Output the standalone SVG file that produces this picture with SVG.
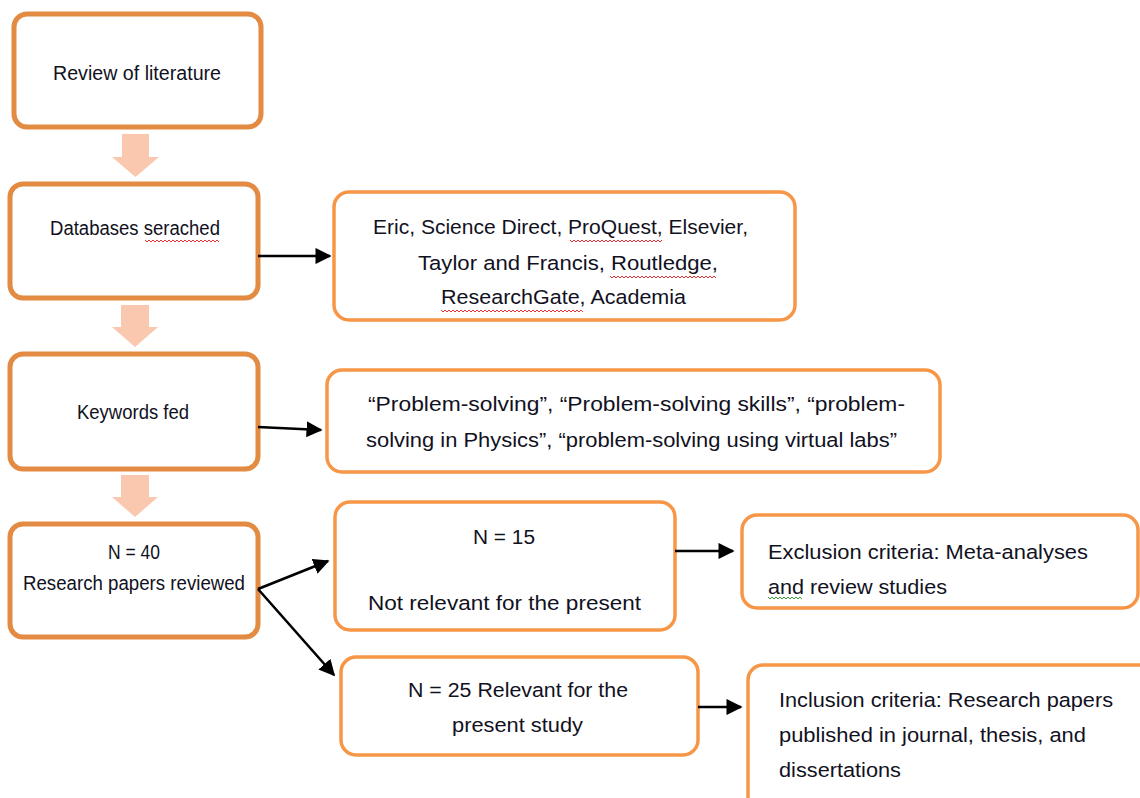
<svg xmlns="http://www.w3.org/2000/svg" width="1140" height="798" viewBox="0 0 1140 798">
<defs>
<marker id="ah" viewBox="0 0 10 10" refX="9" refY="5" markerWidth="6.2" markerHeight="6.2" orient="auto" markerUnits="strokeWidth">
<path d="M0,0 L10,5 L0,10 Z" fill="#000"/>
</marker>
<style>
.lbox{fill:#fff;stroke:#E38A43;stroke-width:5}
.rbox{fill:#fff;stroke:#F79646;stroke-width:3.5}
.blk{fill:#FAC8AE}
text{font-family:"Liberation Sans",Arial,sans-serif;fill:#111122}
.lt{font-size:19.5px}
.rt{font-size:20.5px}
.con{stroke:#000;stroke-width:2.6;fill:none;marker-end:url(#ah)}
.sq{fill:none;stroke:#e03030;stroke-width:1}
.sqg{fill:none;stroke:#3a9a3a;stroke-width:1}
</style>
</defs>
<rect width="1140" height="798" fill="#fff"/>

<g id="flow-arrows">
<path class="blk" d="M122,134 H149 V157 H159 L135.5,177 L112,157 H122 Z"/>
<path class="blk" d="M121,305 H149 V327 H158 L135,347 L112,327 H121 Z"/>
<path class="blk" d="M121,475 H149 V497 H158 L135,517 L112,497 H121 Z"/>
</g>

<g id="n1">
<rect class="lbox" x="14" y="14" width="247" height="113" rx="13"/>
<text class="lt" x="53" y="80" textLength="168" lengthAdjust="spacingAndGlyphs">Review of literature</text>
</g>
<g id="n2">
<rect class="lbox" x="10" y="184" width="248" height="114" rx="13"/>
<text class="lt" x="50" y="235" textLength="170" lengthAdjust="spacingAndGlyphs">Databases serached</text>
</g>
<g id="n3">
<rect class="lbox" x="10" y="354" width="248" height="115" rx="13"/>
<text class="lt" x="77" y="419" textLength="112" lengthAdjust="spacingAndGlyphs">Keywords fed</text>
</g>
<g id="n4">
<rect class="lbox" x="10" y="524" width="248" height="113" rx="13"/>
<text class="lt" x="108" y="559" textLength="52" lengthAdjust="spacingAndGlyphs">N = 40</text>
<text class="lt" x="23" y="590" textLength="222" lengthAdjust="spacingAndGlyphs">Research papers reviewed</text>
</g>

<g id="nA">
<rect class="rbox" x="334" y="192" width="461" height="128" rx="15"/>
<text class="rt" x="373" y="234" textLength="375" lengthAdjust="spacingAndGlyphs">Eric, Science Direct, ProQuest, Elsevier,</text>
<text class="rt" x="418" y="270" textLength="300" lengthAdjust="spacingAndGlyphs">Taylor and Francis, Routledge,</text>
<text class="rt" x="441" y="304" textLength="245" lengthAdjust="spacingAndGlyphs">ResearchGate, Academia</text>
</g>
<g id="nB">
<rect class="rbox" x="327" y="370" width="613" height="102" rx="15"/>
<text class="rt" x="368" y="411" textLength="537" lengthAdjust="spacingAndGlyphs">“Problem-solving”, “Problem-solving skills”, “problem-</text>
<text class="rt" x="366" y="447" textLength="531" lengthAdjust="spacingAndGlyphs">solving in Physics”, “problem-solving using virtual labs”</text>
</g>
<g id="nC">
<rect class="rbox" x="335" y="502" width="340" height="128" rx="15"/>
<text class="rt" x="473" y="544" textLength="62" lengthAdjust="spacingAndGlyphs">N = 15</text>
<text class="rt" x="368" y="610" textLength="273" lengthAdjust="spacingAndGlyphs">Not relevant for the present</text>
</g>
<g id="nD">
<rect class="rbox" x="341" y="657" width="357" height="98" rx="15"/>
<text class="rt" x="408" y="697" textLength="220" lengthAdjust="spacingAndGlyphs">N = 25 Relevant for the</text>
<text class="rt" x="452" y="732" textLength="131" lengthAdjust="spacingAndGlyphs">present study</text>
</g>
<g id="nE">
<rect class="rbox" x="742" y="515" width="396" height="93" rx="15"/>
<text class="rt" x="768" y="559" textLength="320" lengthAdjust="spacingAndGlyphs">Exclusion criteria: Meta-analyses</text>
<text class="rt" x="768" y="594" textLength="179" lengthAdjust="spacingAndGlyphs">and review studies</text>
</g>
<g id="nF">
<rect class="rbox" x="748" y="665" width="420" height="160" rx="15"/>
<text class="rt" x="779" y="707" textLength="334" lengthAdjust="spacingAndGlyphs">Inclusion criteria: Research papers</text>
<text class="rt" x="779" y="742" textLength="307" lengthAdjust="spacingAndGlyphs">published in journal, thesis, and</text>
<text class="rt" x="779" y="777" textLength="122" lengthAdjust="spacingAndGlyphs">dissertations</text>
</g>

<g id="spelling-marks">
<path class="sq" d="M145,240 l2,2 l2,-2 l2,2 l2,-2 l2,2 l2,-2 l2,2 l2,-2 l2,2 l2,-2 l2,2 l2,-2 l2,2 l2,-2 l2,2 l2,-2 l2,2 l2,-2 l2,2 l2,-2 l2,2 l2,-2 l2,2 l2,-2 l2,2 l2,-2 l2,2 l2,-2 l2,2 l2,-2 l2,2 l2,-2 l2,2 l2,-2 l2,2 l2,-2 l2,2"/>
<path class="sq" d="M570,240 l2,2 l2,-2 l2,2 l2,-2 l2,2 l2,-2 l2,2 l2,-2 l2,2 l2,-2 l2,2 l2,-2 l2,2 l2,-2 l2,2 l2,-2 l2,2 l2,-2 l2,2 l2,-2 l2,2 l2,-2 l2,2 l2,-2 l2,2 l2,-2 l2,2 l2,-2 l2,2 l2,-2 l2,2 l2,-2 l2,2 l2,-2 l2,2 l2,-2 l2,2 l2,-2 l2,2 l2,-2 l2,2 l2,-2 l2,2 l2,-2 l2,2 l2,-2"/>
<path class="sq" d="M610,276 l2,2 l2,-2 l2,2 l2,-2 l2,2 l2,-2 l2,2 l2,-2 l2,2 l2,-2 l2,2 l2,-2 l2,2 l2,-2 l2,2 l2,-2 l2,2 l2,-2 l2,2 l2,-2 l2,2 l2,-2 l2,2 l2,-2 l2,2 l2,-2 l2,2 l2,-2 l2,2 l2,-2 l2,2 l2,-2 l2,2 l2,-2 l2,2 l2,-2 l2,2 l2,-2 l2,2 l2,-2 l2,2 l2,-2 l2,2 l2,-2 l2,2 l2,-2 l2,2 l2,-2 l2,2 l2,-2 l2,2 l2,-2 l2,2"/>
<path class="sq" d="M441,310 l2,2 l2,-2 l2,2 l2,-2 l2,2 l2,-2 l2,2 l2,-2 l2,2 l2,-2 l2,2 l2,-2 l2,2 l2,-2 l2,2 l2,-2 l2,2 l2,-2 l2,2 l2,-2 l2,2 l2,-2 l2,2 l2,-2 l2,2 l2,-2 l2,2 l2,-2 l2,2 l2,-2 l2,2 l2,-2 l2,2 l2,-2 l2,2 l2,-2 l2,2 l2,-2 l2,2 l2,-2 l2,2 l2,-2 l2,2 l2,-2 l2,2 l2,-2 l2,2 l2,-2 l2,2 l2,-2 l2,2 l2,-2 l2,2 l2,-2 l2,2 l2,-2 l2,2 l2,-2 l2,2 l2,-2 l2,2 l2,-2 l2,2 l2,-2 l2,2 l2,-2 l2,2 l2,-2 l2,2 l2,-2 l2,2"/>
<path class="sqg" d="M768,597 l2,2 l2,-2 l2,2 l2,-2 l2,2 l2,-2 l2,2 l2,-2 l2,2 l2,-2 l2,2 l2,-2 l2,2 l2,-2 l2,2 l2,-2 l2,2"/>
</g>

<g id="connectors">
<line class="con" x1="258" y1="256" x2="330" y2="256"/>
<line class="con" x1="258" y1="427" x2="321" y2="430"/>
<line class="con" x1="258" y1="589" x2="328" y2="561"/>
<line class="con" x1="258" y1="589" x2="334" y2="675"/>
<line class="con" x1="675" y1="551" x2="733" y2="551"/>
<line class="con" x1="698" y1="707" x2="741" y2="707"/>
</g>
</svg>
